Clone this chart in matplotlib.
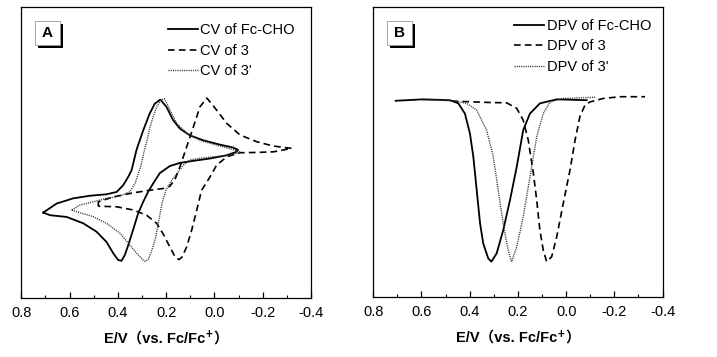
import matplotlib
matplotlib.use("Agg")
import matplotlib.pyplot as plt
from matplotlib.patches import Rectangle
from matplotlib.ticker import MultipleLocator
from matplotlib.offsetbox import TextArea, HPacker, AnchoredOffsetbox

plt.rcParams.update({
    "font.family": ["Liberation Sans", "Noto Sans CJK SC", "DejaVu Sans"],
    "mathtext.fontset": "custom",
    "mathtext.rm": "Liberation Sans:bold",
    "mathtext.bf": "Liberation Sans:bold",
    "axes.linewidth": 0.9,
})

# ---------------------------------------------------------------------------
# Data (E in V vs. Fc/Fc+, current in arbitrary units)
# ---------------------------------------------------------------------------
cv_fc_E = [0.709, 0.654, 0.585, 0.516, 0.447, 0.405, 0.378, 0.357, 0.343, 0.323,
           0.295, 0.268, 0.247, 0.224, 0.198, 0.171, 0.143, 0.102, 0.047, -0.022,
           -0.077, -0.098, -0.091, -0.050, 0.019, 0.088, 0.143, 0.185, 0.226, 0.254,
           0.275, 0.295, 0.316, 0.337, 0.357, 0.371, 0.385, 0.399, 0.419, 0.447,
           0.488, 0.543, 0.612, 0.681, 0.709]
cv_fc_I = [29.3, 32.4, 34.2, 35.1, 35.6, 36.4, 38.7, 41.6, 43.9, 50.8,
           57.6, 63.4, 66.8, 68.2, 65.6, 61.1, 58.2, 55.9, 54.2, 52.7,
           51.7, 50.9, 50.2, 49.0, 47.9, 47.1, 46.4, 45.3, 42.9, 39.3,
           36.4, 33.0, 29.0, 23.3, 18.1, 14.7, 12.7, 13.0, 15.3, 19.2,
           22.7, 25.6, 27.8, 28.4, 29.3]

cv_3_E = [0.481, 0.481, 0.419, 0.336, 0.267, 0.212, 0.184, 0.163, 0.143, 0.115,
          0.087, 0.060, 0.031, -0.009, -0.051, -0.106, -0.175, -0.244, -0.320, -0.244,
          -0.175, -0.106, -0.051, -0.009, 0.018, 0.053, 0.073, 0.094, 0.115, 0.134,
          0.147, 0.163, 0.184, 0.212, 0.239, 0.281, 0.336, 0.405, 0.481]
cv_3_I = [31.5, 33.0, 34.7, 36.1, 37.0, 37.6, 38.4, 40.8, 45.0, 51.9,
          58.8, 65.7, 68.7, 64.6, 60.0, 56.0, 53.7, 52.2, 51.4, 50.2,
          50.0, 49.9, 48.5, 45.6, 41.6, 37.0, 30.2, 23.3, 17.5, 14.0,
          13.1, 14.1, 17.4, 21.9, 25.6, 28.4, 30.2, 31.3, 31.5]

cv_3p_E = [0.591, 0.557, 0.502, 0.447, 0.391, 0.350, 0.329, 0.317, 0.304, 0.292,
           0.279, 0.267, 0.253, 0.238, 0.221, 0.207, 0.184, 0.156, 0.115, 0.060,
           -0.009, -0.078, -0.108, -0.065, 0.005, 0.060, 0.101, 0.129, 0.151, 0.176,
           0.201, 0.217, 0.230, 0.244, 0.259, 0.273, 0.286, 0.296, 0.322, 0.350,
           0.391, 0.447, 0.502, 0.571, 0.591]
cv_3p_I = [30.2, 31.9, 33.0, 34.2, 35.0, 36.5, 39.4, 42.2, 45.6, 50.1,
           54.2, 58.7, 62.5, 65.9, 68.0, 68.5, 64.6, 60.0, 56.6, 54.2,
           52.5, 51.0, 50.1, 49.1, 48.5, 48.0, 47.4, 45.6, 43.2, 40.5,
           37.0, 32.6, 26.7, 20.5, 16.4, 13.3, 12.5, 13.0, 15.3, 18.1,
           22.2, 25.6, 27.9, 29.6, 30.2]

dpv_fc_E = [0.707, 0.593, 0.482, 0.447, 0.420, 0.399, 0.385, 0.371, 0.357, 0.344,
            0.323, 0.310, 0.288, 0.261, 0.233, 0.205, 0.178, 0.150, 0.109, 0.039,
            -0.085]
dpv_fc_I = [67.7, 68.2, 67.9, 66.8, 63.3, 56.4, 48.4, 36.9, 25.4, 18.5,
            13.3, 12.2, 15.1, 23.1, 33.4, 44.9, 57.6, 63.3, 66.8, 68.2,
            67.9]

dpv_3_E = [0.475, 0.316, 0.247, 0.205, 0.178, 0.157, 0.136, 0.122, 0.109, 0.095,
           0.081, 0.060, 0.039, 0.012, -0.016, -0.037, -0.057, -0.078, -0.099, -0.154,
           -0.223, -0.327]
dpv_3_I = [67.6, 67.1, 67.0, 65.1, 61.0, 54.1, 42.7, 33.4, 23.1, 16.2,
           12.2, 13.9, 20.8, 32.3, 43.8, 54.1, 62.2, 66.2, 67.3, 68.5,
           69.1, 69.1]

dpv_3p_E = [0.594, 0.468, 0.413, 0.371, 0.330, 0.302, 0.282, 0.261, 0.245, 0.233,
            0.226, 0.205, 0.178, 0.150, 0.122, 0.095, 0.067, 0.012, -0.120]
dpv_3p_I = [68.0, 67.7, 66.8, 64.5, 57.6, 48.4, 36.9, 25.4, 17.9, 13.9,
            12.2, 17.3, 27.7, 41.5, 55.3, 63.3, 67.3, 68.5, 68.9]

x_ticks = [0.8, 0.6, 0.4, 0.2, 0.0, -0.2, -0.4]
label_parts = ["E/V（vs. Fc/Fc", r"$^{+}$", "）"]

SOLID = dict(color="black", linewidth=1.3, linestyle="-")
DASHED = dict(color="black", linewidth=1.2, linestyle=(0, (4, 2.5)))
DOTTED = dict(color="#333333", linewidth=1.0, linestyle=(0, (0.8, 0.8)))

fig = plt.figure(figsize=(7.17, 3.57), dpi=100)
ax_a = fig.add_axes([0.0297, 0.166, 0.404, 0.814])
ax_b = fig.add_axes([0.5206, 0.168, 0.4035, 0.812])


def style_axes(ax, letter):
    ax.set_xlim(0.8, -0.4)
    ax.set_ylim(0, 100)
    ax.set_xticks(x_ticks)
    ax.set_xticklabels([f"{t:.1f}" for t in x_ticks])
    ax.xaxis.set_minor_locator(MultipleLocator(0.1))
    ax.set_yticks([])
    ax.tick_params(axis="x", which="both", direction="in", top=False,
                   labelsize=10.5, pad=6)
    ax.tick_params(axis="x", which="major", length=4, width=0.9)
    ax.tick_params(axis="x", which="minor", length=2.5, width=0.8)

    # axis label: bold text with a raised bold "+"
    props = dict(fontsize=10.5, fontweight="bold")
    parts = [TextArea(label_parts[0], textprops=props),
             TextArea(label_parts[1], textprops=dict(fontsize=12)),
             TextArea(label_parts[2], textprops=props)]
    box = HPacker(children=parts, align="baseline", pad=0, sep=0)
    ax.add_artist(AnchoredOffsetbox(loc="center", child=box, pad=0, borderpad=0,
                                    frameon=False, bbox_to_anchor=(0.5, -0.138),
                                    bbox_transform=ax.transAxes))

    # panel letter box with drop shadow
    x0, y0, w, h, off = 0.046, 0.871, 0.087, 0.080, 0.0105
    ax.add_patch(Rectangle((x0 + off, y0 - off), w, h, transform=ax.transAxes,
                           facecolor="black", edgecolor="none", zorder=4))
    ax.add_patch(Rectangle((x0, y0), w, h, transform=ax.transAxes,
                           facecolor="white", edgecolor="#999999",
                           linewidth=0.6, zorder=5))
    ax.text(x0 + w / 2, y0 + h / 2, letter, transform=ax.transAxes,
            ha="center", va="center", fontsize=11, fontweight="bold", zorder=6)


# ---------------------------------------------------------------------------
# A: cyclic voltammograms
# ---------------------------------------------------------------------------
ax_a.plot(cv_fc_E, cv_fc_I, label="CV of Fc-CHO", **SOLID)
ax_a.plot(cv_3_E, cv_3_I, label="CV of 3", **DASHED)
ax_a.plot(cv_3p_E, cv_3p_I, label="CV of 3'", **DOTTED)
style_axes(ax_a, "A")
ax_a.legend(loc="upper right", frameon=False, fontsize=10.5, handlelength=2.1,
            handletextpad=0.15, labelspacing=0.45, borderaxespad=0.7)

# ---------------------------------------------------------------------------
# B: differential pulse voltammograms
# ---------------------------------------------------------------------------
ax_b.plot(dpv_fc_E, dpv_fc_I, label="DPV of Fc-CHO", **SOLID)
ax_b.plot(dpv_3_E, dpv_3_I, label="DPV of 3", **DASHED)
ax_b.plot(dpv_3p_E, dpv_3p_I, label="DPV of 3'", **DOTTED)
style_axes(ax_b, "B")
ax_b.legend(loc="upper right", frameon=False, fontsize=10.5, handlelength=2.1,
            handletextpad=0.15, labelspacing=0.45, borderaxespad=0.4)

fig.savefig("out.png", dpi=100)
